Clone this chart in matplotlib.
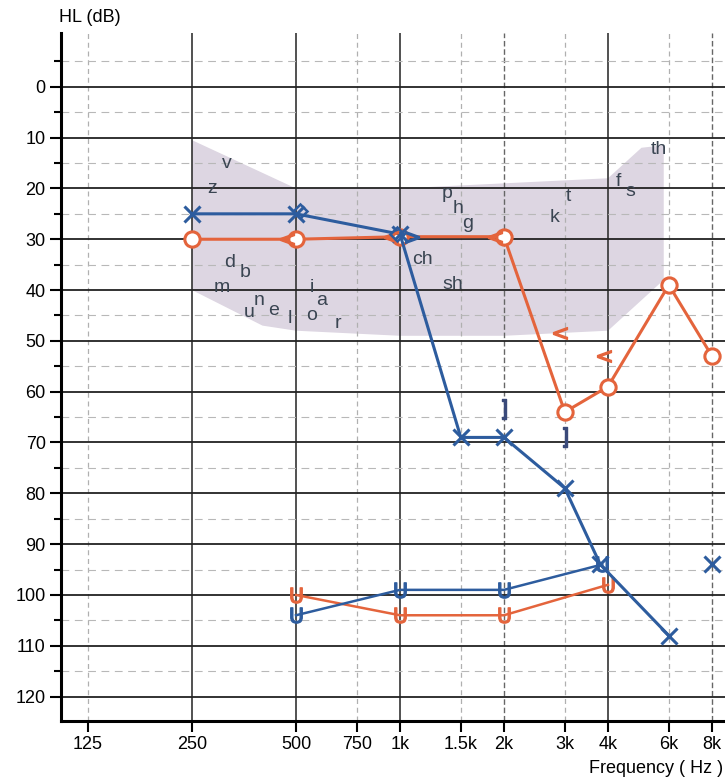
import matplotlib
matplotlib.use("Agg")
import matplotlib.pyplot as plt
from matplotlib.ticker import FixedLocator, NullFormatter

plt.rcParams['font.family'] = ['Liberation Sans', 'DejaVu Sans']

# ------------------------------------------------------------------
# Données lues sur l'audiogramme
# ------------------------------------------------------------------
freq_ticks  = [125, 250, 500, 750, 1000, 1500, 2000, 3000, 4000, 6000, 8000]
freq_labels = ["125", "250", "500", "750", "1k", "1.5k", "2k", "3k", "4k", "6k", "8k"]
db_ticks    = list(range(0, 121, 10))

# oreille gauche (bleu, X)
bleu_f  = [250, 500, 1000, 1500, 2000, 3000, 3800, 6000]
bleu_db = [25, 25, 29, 69, 69, 79, 94, 108]
bleu_8k_f, bleu_8k_db = [8000], [94]

# oreille droite (rouge, O)
rouge_f  = [250, 500, 1000, 2000, 3000, 4000, 6000, 8000]
rouge_db = [30, 30, 29.5, 29.5, 64, 59, 39, 53]

# seuils "U" (vibrotactile)
u_rouge_f  = [500, 1000, 2000, 4000]
u_rouge_db = [100, 104, 104, 98]
u_bleu_f   = [500, 1000, 2000, 3850]
u_bleu_db  = [104, 99, 99, 94]

# conduction osseuse
cr_f  = [470, 940, 1880, 2900, 3900]     # "<" rouge
cr_db = [30, 29.5, 29.5, 48.5, 53]
cb_f  = [1080]                           # ">" bleu
cb_db = [29.5]
crochet_f  = [2000, 3000]                # "]" bleu
crochet_db = [63.5, 69]
losange_f  = [515, 980]                  # losange bleu
losange_db = [24.5, 29]

# zone de la parole ("banane")
banane_f  = [250, 500, 1000, 2000, 4000, 5000, 5800, 5800, 4000, 2000, 1000, 500, 400, 250]
banane_db = [10.5, 20, 20, 19, 18, 12, 11.5, 38, 48, 49, 49, 48, 47, 40]

# phonèmes
phon_txt = ["v", "z", "d", "b", "m", "u", "n", "e", "l", "i", "a", "o", "r",
            "p", "h", "g", "ch", "sh", "k", "t", "f", "s", "th"]
phon_f   = [316, 285, 322, 356, 305, 366, 392, 430, 480, 556, 595, 556, 662,
            1368, 1473, 1574, 1160, 1420, 2810, 3063, 4276, 4629, 5600]
phon_db  = [15, 20, 34.5, 36.5, 39.5, 44.5, 42, 44, 45.5, 39.5, 42, 45, 46.5,
            21, 24, 27, 34, 39, 25.8, 21.6, 18.7, 20.7, 12.4]

# ------------------------------------------------------------------
# Figure
# ------------------------------------------------------------------
bleu  = "#2d5c9e"
rouge = "#e4643c"
lettre = "#3a4552"

fig = plt.figure(figsize=(7.25, 7.84), dpi=100)
ax = fig.add_axes([0.0841, 0.0804, 0.9159, 0.8776])

ax.set_xscale("log", base=2)
ax.set_xlim(104.4, 8725)
ax.set_ylim(124.8, -10.6)

# grille
for f in freq_ticks:
    if f in (250, 500, 1000, 4000):
        ax.axvline(f, color="#333333", lw=1.2, zorder=1)
    elif f in (2000, 8000):
        ax.axvline(f, color="#666666", lw=1.0, ls=(0, (4, 2)), zorder=1)
    else:
        ax.axvline(f, color="#b0b0b0", lw=0.9, ls=(0, (4, 3)), zorder=1)
for d in db_ticks:
    ax.axhline(d, color="#222222", lw=1.3, zorder=1)
for d in range(-5, 120, 10):
    ax.axhline(d, color="#b8b8b8", lw=0.8, ls=(0, (7, 5)), zorder=1)

ax.fill(banane_f, banane_db, color="#ddd6e2", lw=0, zorder=0)

# courbes
ax.plot(bleu_f, bleu_db, color=bleu, lw=2.2, marker="x", ms=11, mew=2.2, zorder=4)
ax.plot(bleu_8k_f, bleu_8k_db, color=bleu, lw=0, marker="x", ms=11, mew=2.2, zorder=4)
ax.plot(rouge_f, rouge_db, color=rouge, lw=2.2, marker="o", ms=11, mew=2.2,
        mfc="white", mec=rouge, zorder=3)
ax.plot(u_rouge_f, u_rouge_db, color=rouge, lw=1.8, marker=r"$\mathrm{U}$", ms=11, zorder=3)
ax.plot(u_bleu_f, u_bleu_db, color=bleu, lw=1.8, marker=r"$\mathrm{U}$", ms=11, zorder=3)

ax.plot(cr_f, cr_db, lw=0, marker="$<$", ms=10, color=rouge, zorder=5)
ax.plot(cb_f, cb_db, lw=0, marker="$>$", ms=10, color=bleu, zorder=5)
ax.plot(crochet_f, crochet_db, lw=0, marker=r"$\mathrm{]}$", ms=14, color="#3a4a7a", zorder=5)
ax.plot(losange_f, losange_db, lw=0, marker="D", ms=7, mfc="none", mec=bleu,
        mew=1.8, zorder=5)

for t, f, d in zip(phon_txt, phon_f, phon_db):
    ax.text(f, d, t, color=lettre, fontsize=14, ha="center", va="center", zorder=6)

# axes et graduations
for s in ("top", "right"):
    ax.spines[s].set_visible(False)
ax.spines["left"].set_linewidth(2.2)
ax.spines["bottom"].set_linewidth(2.2)

ax.xaxis.set_major_locator(FixedLocator(freq_ticks))
ax.xaxis.set_minor_locator(FixedLocator([]))
ax.xaxis.set_minor_formatter(NullFormatter())
ax.set_xticklabels(freq_labels)
ax.yaxis.set_major_locator(FixedLocator(db_ticks))
ax.yaxis.set_minor_locator(FixedLocator(list(range(-5, 120, 10))))
ax.tick_params(axis="both", which="major", labelsize=13, width=1.5, length=8,
               direction="out", pad=3)
ax.tick_params(axis="y", which="minor", width=1.5, length=5)

fig.text(0.082, 0.978, "HL (dB)", fontsize=13, ha="left", va="center")
fig.text(0.997, 0.02, "Frequency ( Hz )", fontsize=13, ha="right", va="center")

fig.savefig("out.png", dpi=100)
